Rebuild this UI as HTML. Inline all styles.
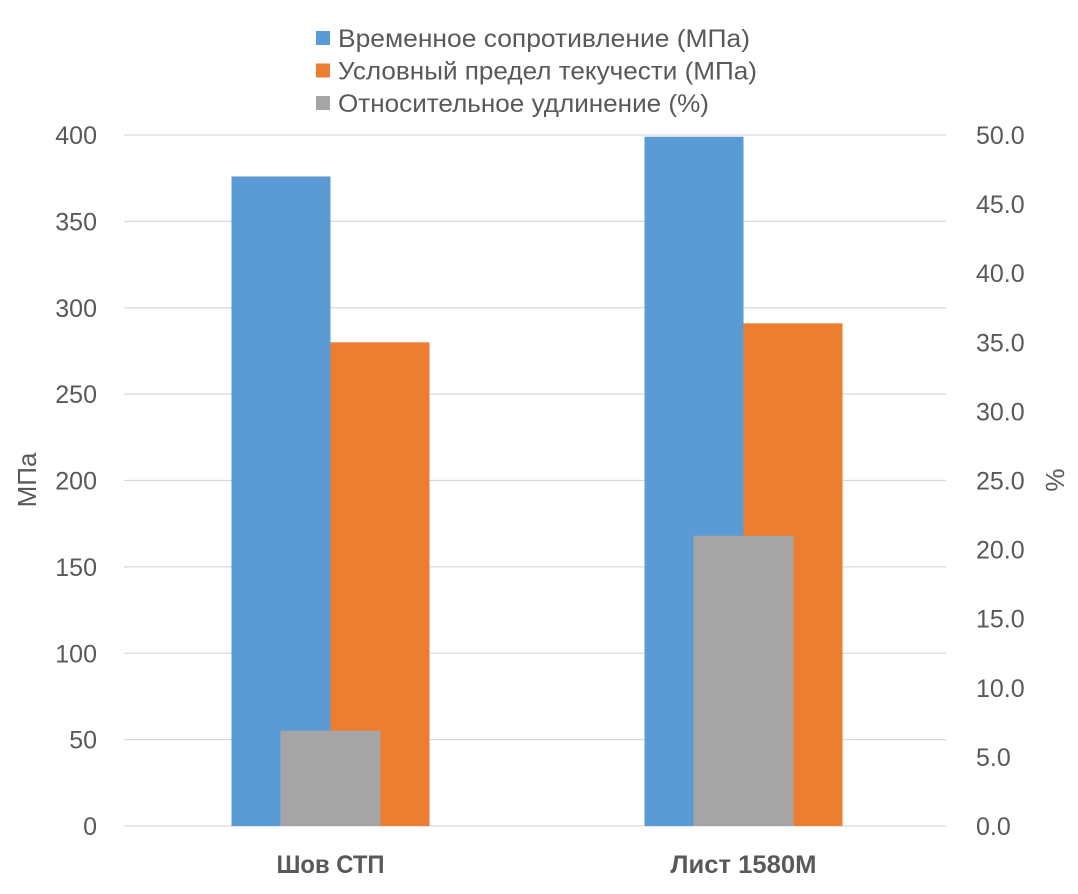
<!DOCTYPE html>
<html><head><meta charset="utf-8"><style>
body{margin:0;background:#fff;}
svg text{font-family:"Liberation Sans","DejaVu Sans",sans-serif;fill:#595959;}
</style></head><body>
<svg id="chart" width="1078" height="889" xmlns="http://www.w3.org/2000/svg">
<g id="grid"></g>
<g id="bars"></g>
<g id="axes"></g>
<g id="legend"></g>
<text transform="translate(36,480) rotate(-90)" text-anchor="middle" font-size="26">МПа</text>
<text transform="translate(1064,480) rotate(-90)" text-anchor="middle" font-size="26">%</text>
</svg>
<script>
const categories=["Шов СТП","Лист 1580М"];
const tensile=[376,399];
const yieldStr=[280,291];
const elongation=[6.9,21.0];
const leftTicks=[0,50,100,150,200,250,300,350,400];
const rightTicks=["0.0","5.0","10.0","15.0","20.0","25.0","30.0","35.0","40.0","45.0","50.0"];
const seriesNames=["Временное сопротивление (МПа)","Условный предел текучести (МПа)","Относительное удлинение (%)"];
const colors=["#5B9BD5","#ED7D31","#A5A5A5"];
const legendWidths=[412,419,371];
const catWidths=[108,146];
const NS="http://www.w3.org/2000/svg";
const x0=124,x1=950,gx1=946,yB=826,yT=135;
const yL=v=>yB-(v/400)*(yB-yT);
const yR=v=>yB-(v/50)*(yB-yT);
const band=(x1-x0)/categories.length;
const cx=i=>x0+band*(i+0.5);
function mk(tag,attrs,parent){const e=document.createElementNS(NS,tag);for(const k in attrs)e.setAttribute(k,attrs[k]);parent.appendChild(e);return e;}
const grid=document.getElementById('grid'),bars=document.getElementById('bars'),axes=document.getElementById('axes'),legend=document.getElementById('legend');
leftTicks.forEach(t=>{
  const l=mk('line',{x1:x0,x2:gx1,y1:yL(t),y2:yL(t),stroke:'#D9D9D9','stroke-width':1.3},grid);
  
  
  const tx=mk('text',{x:97,y:yL(t)+9,'text-anchor':'end','font-size':25},axes);
  tx.textContent=t;
  
  
});
rightTicks.forEach((t,i)=>{
  const tx=mk('text',{x:976,y:yR(i*5)+9,'text-anchor':'start','font-size':25},axes);
  tx.textContent=t;
  
  
});
const bw=99;
categories.forEach((c,i)=>{
  const c0=cx(i);
  const b=mk('rect',{x:c0-bw,y:yL(tensile[i]),width:bw,height:yB-yL(tensile[i]),fill:colors[0]},bars);
  
  
  const o=mk('rect',{x:c0,y:yL(yieldStr[i]),width:bw,height:yB-yL(yieldStr[i]),fill:colors[1]},bars);
  
  
  const g=mk('rect',{x:c0-50,y:yR(elongation[i]),width:100,height:yB-yR(elongation[i]),fill:colors[2]},bars);
  
  
  const tx=mk('text',{x:c0,y:873,'text-anchor':'middle','font-size':25,'font-weight':'bold',textLength:catWidths[i],lengthAdjust:'spacingAndGlyphs'},axes);
  tx.textContent=c;
  
  
});
seriesNames.forEach((s,i)=>{
  const y=38+i*32.5;
  const r=mk('rect',{x:316,y:y-7,width:14,height:14,fill:colors[i]},legend);
  
  
  const tx=mk('text',{x:338,y:y+9,'font-size':25,textLength:legendWidths[i],lengthAdjust:'spacingAndGlyphs'},legend);
  tx.textContent=s;
  
  
});
</script>
</body></html>
